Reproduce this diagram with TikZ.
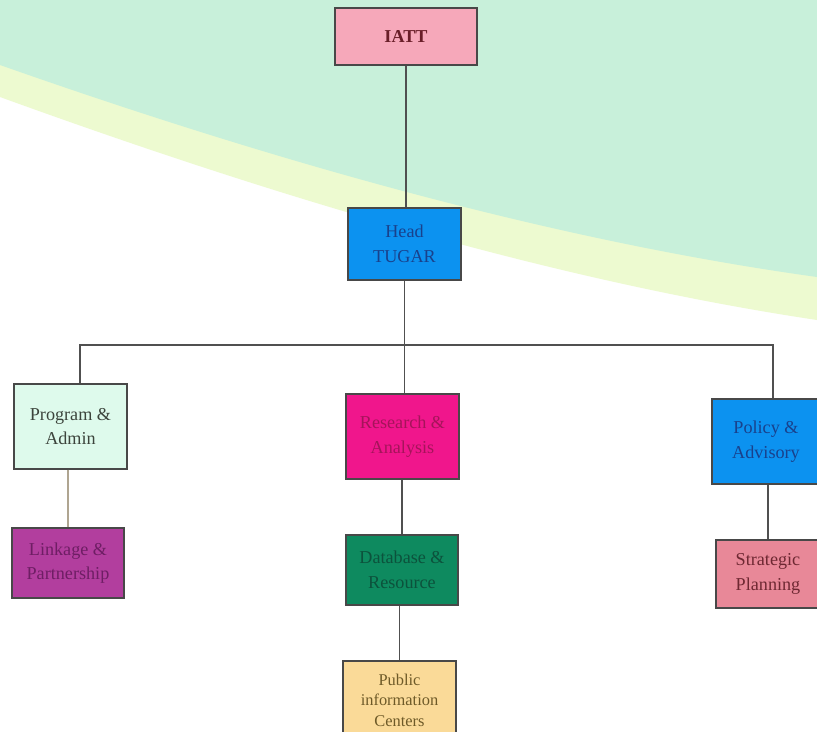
\documentclass[tikz,border=0pt]{standalone}
\usepackage{fontspec}
\setmainfont{Liberation Serif}
\definecolor{bggreen}{RGB}{200,240,218}
\definecolor{bgyellow}{RGB}{237,250,208}
\definecolor{edgegray}{RGB}{72,72,72}
\definecolor{linkgray}{RGB}{80,80,80}
\definecolor{palelink}{RGB}{175,165,145}
\definecolor{iattfill}{RGB}{246,168,186}
\definecolor{iatttext}{RGB}{105,30,40}
\definecolor{bluefill}{RGB}{12,146,240}
\definecolor{bluetext}{RGB}{25,65,140}
\definecolor{progfill}{RGB}{222,250,236}
\definecolor{progtext}{RGB}{60,68,60}
\definecolor{resfill}{RGB}{240,22,140}
\definecolor{restext}{RGB}{165,20,90}
\definecolor{linkfill}{RGB}{178,62,158}
\definecolor{linktext}{RGB}{110,30,100}
\definecolor{dbfill}{RGB}{14,138,95}
\definecolor{dbtext}{RGB}{12,82,60}
\definecolor{pubfill}{RGB}{250,218,152}
\definecolor{pubtext}{RGB}{110,90,40}
\definecolor{stratfill}{RGB}{232,136,152}
\definecolor{strattext}{RGB}{110,40,50}
\begin{document}
\begin{tikzpicture}[
		x=0.03cm,
		y=-0.03cm,
		unit/.style={
				draw=edgegray,
				line width=1.2pt,
				shape=rectangle,
				inner sep=0pt,
				align=center,
				font=\fontsize{15.5}{21}\selectfont
			},
		link/.style={
				draw=linkgray,
				line width=1pt
			},
	]
	% background
	\clip (0,0) rectangle (817,731);
	\fill [white] (0,0) rectangle (817,731);
	\fill [bgyellow] (0,0) -- (817,0) -- (817,320)
		.. controls (550,280) and (270,195) .. (0,97) -- cycle;
	\fill [bggreen] (0,0) -- (817,0) -- (817,277)
		.. controls (550,240) and (270,160) .. (0,65) -- cycle;
	% units
	\node [unit, fill=iattfill, text=iatttext, minimum width=4.26cm, minimum height=1.71cm] (iatt) at (406, 36.5) {\bfseries IATT};
	\node [unit, fill=bluefill, text=bluetext, minimum width=3.39cm, minimum height=2.16cm] (head) at (404.5, 244) {Head\\TUGAR};
	\node [unit, fill=progfill, text=progtext, minimum width=3.39cm, minimum height=2.55cm] (prog) at (70.5, 426.5) {Program \&\\Admin};
	\node [unit, fill=resfill, text=restext, minimum width=3.39cm, minimum height=2.55cm] (research) at (402.5, 436.5) {Research \&\\Analysis};
	\node [unit, fill=bluefill, text=bluetext, minimum width=3.24cm, minimum height=2.55cm] (policy) at (766, 441.5) {Policy \&\\Advisory};
	\node [unit, fill=linkfill, text=linktext, minimum width=3.36cm, minimum height=2.1cm] (linkage) at (68, 563) {Linkage \&\\Partnership};
	\node [unit, fill=dbfill, text=dbtext, minimum width=3.36cm, minimum height=2.1cm] (database) at (402, 570) {Database \&\\Resource};
	\node [unit, fill=pubfill, text=pubtext, minimum width=3.39cm, minimum height=2.34cm, font=\fontsize{14}{17.5}\selectfont] (public) at (399.5, 700) {Public\\information\\Centers};
	\node [unit, fill=stratfill, text=strattext, minimum width=3.12cm, minimum height=2.04cm] (strategic) at (768, 574) {Strategic\\Planning};
	% junctions
	\coordinate (bar) at (404.5, 345);
	\coordinate (barL) at (80, 345);
	\coordinate (barR) at (773, 345);
	% links
	\draw [link] (iatt.south) -- (iatt.south |- head.north);
	\draw [link] (head.south) -- (bar);
	\draw [link] (barL |- prog.north) -- (barL) -- (barR) -- (barR |- policy.north);
	\draw [link] (bar) -- (bar |- research.north);
	\draw [link, draw=palelink] (linkage.north |- prog.south) -- (linkage.north);
	\draw [link] (database.north |- research.south) -- (database.north);
	\draw [link] (public.north |- database.south) -- (public.north);
	\draw [link] (strategic.north |- policy.south) -- (strategic.north);
\end{tikzpicture}
\end{document}
